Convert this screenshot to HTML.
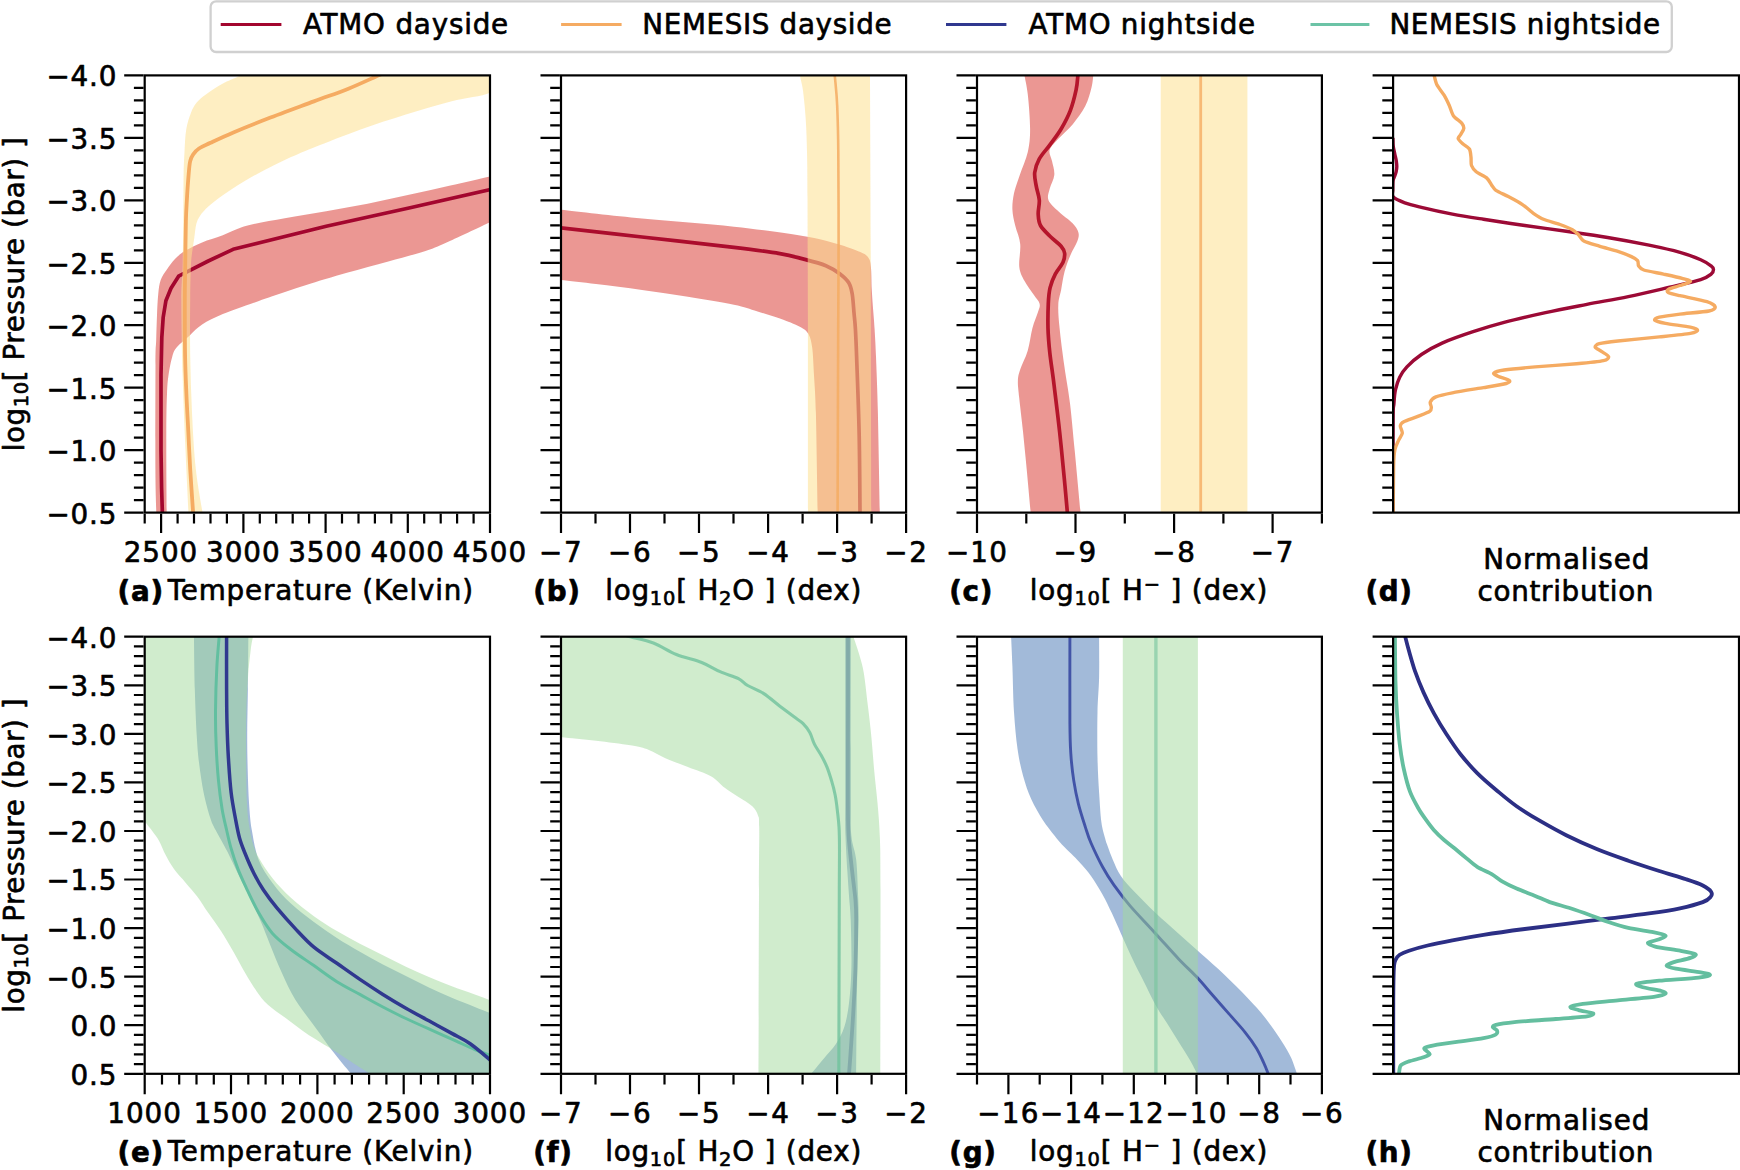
<!DOCTYPE html>
<html lang="en"><head><meta charset="utf-8"><title>Retrieved atmospheric profiles: ATMO vs NEMESIS</title>
<style>
html,body{margin:0;padding:0;background:#fff;}
body{width:1740px;height:1170px;overflow:hidden;}
svg{display:block;}
text{font-family:"DejaVu Sans", "Liberation Sans", sans-serif;font-size:27.78px;fill:#000;stroke:#000;stroke-width:0.65px;stroke-linejoin:round;}
.b{font-weight:bold;}
.sub{font-size:19.45px;}
.ax{stroke:#000;stroke-width:2.2;fill:none;stroke-linecap:square;}
.tk{stroke:#000;stroke-width:2.2;fill:none;}
.ln{fill:none;stroke-linejoin:round;stroke-linecap:butt;}
</style></head><body>
<svg width="1740" height="1170" viewBox="0 0 1740 1170">
<rect width="1740" height="1170" fill="#fff"/>
<defs>
<clipPath id="cp00"><rect x="144.7" y="75.4" width="345.3" height="437.2"/></clipPath>
<clipPath id="cp01"><rect x="561" y="75.4" width="345.1" height="437.2"/></clipPath>
<clipPath id="cp02"><rect x="977" y="75.4" width="344.9" height="437.2"/></clipPath>
<clipPath id="cp03"><rect x="1393.1" y="75.4" width="345.9" height="437.2"/></clipPath>
<clipPath id="cp10"><rect x="144.7" y="636.7" width="345.3" height="437.1"/></clipPath>
<clipPath id="cp11"><rect x="561" y="636.7" width="345.1" height="437.1"/></clipPath>
<clipPath id="cp12"><rect x="977" y="636.7" width="344.9" height="437.1"/></clipPath>
<clipPath id="cp13"><rect x="1393.1" y="636.7" width="345.9" height="437.1"/></clipPath>
</defs>
<g id="panel-a">
<g clip-path="url(#cp00)">
<path d="M492 176.1C485.1 177.7 464.2 182.5 450.4 185.6C436.6 188.7 422.8 191.8 409 194.8C395.2 197.8 381.4 201.1 367.6 203.8C353.8 206.5 340 208.8 326.2 211.2C312.4 213.6 297.9 215.8 284.8 218.2C271.7 220.6 257.9 222.8 247.6 225.6C237.3 228.4 230.4 232.4 222.8 235.2C215.2 238 208.3 239.8 202.1 242.4C195.9 245 190 247.9 185.5 250.6C181 253.3 178.3 255.7 175.2 258.8C172.1 261.9 169.3 265.9 166.9 269.4C164.5 272.9 162.1 275.8 160.7 280C159.2 284.2 158.8 288.6 158.2 294.5C157.6 300.4 157.3 307.6 157 315.2C156.7 322.8 156.4 331.7 156.2 340C155.9 348.3 155.6 343.5 155.5 365C155.4 386.5 155.3 444.2 155.4 469C155.5 493.8 156.2 506.5 156.3 514L166.7 514C166.6 500.3 166.2 451.6 166.3 431.6C166.4 411.6 166.6 403.4 167 394C167.4 384.6 167.6 381.5 168.5 375.2C169.4 368.9 170.9 361.1 172.3 356.4C173.7 351.7 174.1 350.5 177 347C179.9 343.5 185.5 339.1 189.7 335.4C193.9 331.6 196.6 328.1 202.1 324.5C207.6 320.9 214.2 317.7 222.8 314.1C231.4 310.5 245.2 305.9 253.8 302.8C262.4 299.7 265.9 298.4 274.5 295.5C283.1 292.6 293.4 289 305.5 285.2C317.6 281.4 333.1 276.8 346.9 272.8C360.7 268.8 375.2 265 388.3 261.4C401.4 257.8 415.1 254.4 425.5 251C435.9 247.6 439.3 245.7 450.4 240.7C461.5 235.7 485.1 224.4 492 221.2Z" fill="#d73027" fill-opacity="0.5"/>
<path class="ln" d="M492 189.1L409 208L326.2 226.2L233.1 249.3L208.3 261L178.6 276.2L171 288.3L165.9 300.7L163.2 317.2L161.8 337.6L161 375.2L161 450.4L161.6 488L162.4 514" stroke="#a3062e" stroke-width="3.7" stroke-opacity="1"/>
<path d="M243 73C242.6 73.4 243.8 73.8 240.3 75.6C236.8 77.4 227.7 80.9 222 84.1C216.3 87.2 210.1 91.4 205.9 94.5C201.7 97.6 199.2 99.4 196.7 102.5C194.2 105.6 192.6 108.5 190.9 112.9C189.2 117.3 187.4 122.5 186.3 129C185.2 135.5 184.9 144.3 184.5 152C184.1 159.7 183.8 163.5 183.6 175C183.4 186.5 183.5 205.7 183.3 221C183.1 236.3 182.9 253.8 182.6 267C182.3 280.2 181.3 282 181.3 300C181.3 318 181.9 350 182.6 375C183.3 400 184.5 426.8 185.5 450C186.5 473.2 188 503.3 188.5 514L202.8 514C201.6 506.5 197.6 485.9 195.8 469C194 452.1 192.9 431.6 192 412.8C191.1 394 190.5 374.8 190.2 356C189.9 337.2 190.1 314.8 190.2 300C190.3 285.2 190.6 275 190.9 267C191.2 259 191.6 256.7 192.2 252C192.8 247.3 193.5 243.2 194.2 238.6C194.9 233.9 195.3 227.9 196.3 224.1C197.3 220.3 198 218.8 200 215.9C202 213 204.5 210.1 208.3 206.6C212.1 203.1 216.9 199.3 222.8 195.2C228.7 191 236.6 185.8 243.5 181.7C250.4 177.5 257.2 173.9 264.1 170.3C271 166.7 276.5 163.8 284.8 160C293.1 156.2 301.4 152.6 313.9 147.6C326.4 142.6 344.6 135.3 359.9 129.8C375.2 124.3 390.6 119.4 405.9 114.6C421.2 109.8 437.4 105 451.8 101.2C466.2 97.4 485.3 96.3 492 91.6C498.7 86.9 492 76.1 492 73Z" fill="#fee090" fill-opacity="0.55"/>
<path class="ln" d="M385 73C384.1 73.3 385.5 72.4 379.4 75C373.3 77.6 359.3 84.3 348.4 88.7C337.5 93.1 327.3 96.4 313.9 101.4C300.5 106.4 281.3 113.4 267.9 118.6C254.5 123.8 243 128.4 233.4 132.4C223.8 136.4 216.2 140.1 210.5 142.8C204.8 145.5 201.9 146.6 199 148.5C196.1 150.4 194.7 152.2 193.2 154.3C191.7 156.4 191 157.7 190.2 161.1C189.4 164.5 189.1 168.8 188.6 174.9C188.1 181 187.4 190.2 187 197.9C186.6 205.6 186.2 209.4 185.9 220.9C185.6 232.4 185.4 253.7 185.2 266.9C185 280.1 184.8 285.1 184.8 300C184.8 314.9 184.8 340.7 185.1 356.4C185.4 372.1 185.9 381.5 186.4 394C186.9 406.5 187.7 419.1 188.3 431.6C188.9 444.1 189.4 455.5 190.2 469.2C191 482.9 192.7 506.5 193.2 514" stroke="#f5ab62" stroke-width="3.8" stroke-opacity="1"/>
</g>
<rect class="ax" x="144.7" y="75.4" width="345.3" height="437.2"/>
<path class="tk" d="M143.6 75.4h-19.4M143.6 87.9h-9.7M143.6 100.4h-9.7M143.6 112.9h-9.7M143.6 125.4h-9.7M143.6 137.9h-19.4M143.6 150.3h-9.7M143.6 162.8h-9.7M143.6 175.3h-9.7M143.6 187.8h-9.7M143.6 200.3h-19.4M143.6 212.8h-9.7M143.6 225.3h-9.7M143.6 237.8h-9.7M143.6 250.3h-9.7M143.6 262.8h-19.4M143.6 275.3h-9.7M143.6 287.8h-9.7M143.6 300.2h-9.7M143.6 312.7h-9.7M143.6 325.2h-19.4M143.6 337.7h-9.7M143.6 350.2h-9.7M143.6 362.7h-9.7M143.6 375.2h-9.7M143.6 387.7h-19.4M143.6 400.2h-9.7M143.6 412.7h-9.7M143.6 425.2h-9.7M143.6 437.7h-9.7M143.6 450.1h-19.4M143.6 462.6h-9.7M143.6 475.1h-9.7M143.6 487.6h-9.7M143.6 500.1h-9.7M143.6 512.6h-19.4"/>
<text x="116.3" y="86.3" text-anchor="end" textLength="69.8">−4.0</text>
<text x="116.3" y="148.8" text-anchor="end" textLength="69.8">−3.5</text>
<text x="116.3" y="211.2" text-anchor="end" textLength="69.8">−3.0</text>
<text x="116.3" y="273.7" text-anchor="end" textLength="69.8">−2.5</text>
<text x="116.3" y="336.1" text-anchor="end" textLength="69.8">−2.0</text>
<text x="116.3" y="398.6" text-anchor="end" textLength="69.8">−1.5</text>
<text x="116.3" y="461" text-anchor="end" textLength="69.8">−1.0</text>
<text x="116.3" y="523.5" text-anchor="end" textLength="69.8">−0.5</text>
<text x="160.5" y="561.9" text-anchor="middle" textLength="73.5">2500</text>
<text x="242.8" y="561.9" text-anchor="middle" textLength="73.5">3000</text>
<text x="325" y="561.9" text-anchor="middle" textLength="73.5">3500</text>
<text x="407.2" y="561.9" text-anchor="middle" textLength="73.5">4000</text>
<text x="489.4" y="561.9" text-anchor="middle" textLength="73.5">4500</text>
<path class="tk" d="M144.7 513.7v9.7M161.1 513.7v19.4M177.6 513.7v9.7M194 513.7v9.7M210.5 513.7v9.7M226.9 513.7v9.7M243.4 513.7v19.4M259.8 513.7v9.7M276.2 513.7v9.7M292.7 513.7v9.7M309.1 513.7v9.7M325.6 513.7v19.4M342 513.7v9.7M358.5 513.7v9.7M374.9 513.7v9.7M391.3 513.7v9.7M407.8 513.7v19.4M424.2 513.7v9.7M440.7 513.7v9.7M457.1 513.7v9.7M473.6 513.7v9.7M490 513.7v19.4"/>
<text class="b" x="117.6" y="600.6" textLength="45.5">(a)</text>
<text x="320.4" y="600.2" text-anchor="middle" textLength="305.3">Temperature (Kelvin)</text>
</g>
<g id="panel-b">
<g clip-path="url(#cp01)">
<path d="M559 209.6C572.8 211.1 612.9 215.8 642 218.6C671.1 221.4 707.1 223.8 733.9 226.7C760.7 229.6 785.6 233 802.9 235.9C820.1 238.8 827.8 241.2 837.4 243.9C847 246.6 855.1 249.7 860.3 252C865.5 254.3 866.6 255.2 868.4 257.7C870.2 260.2 870.3 261.5 870.9 266.9C871.5 272.3 871.4 282.2 871.8 289.9C872.2 297.6 872.9 306.4 873.4 312.9C873.9 319.4 874.2 321.8 874.6 329C875 336.2 875.5 342.4 876 356.4C876.5 370.4 877.3 386.5 877.9 412.8C878.5 439.1 879.5 497.1 879.8 514L817.7 514C817.4 497.1 816.5 435.9 815.9 412.8C815.3 389.7 814.6 386.2 814 375.2C813.4 364.2 813.1 353.9 812.1 347C811.1 340.1 810.2 337.1 808.3 333.8C806.4 330.5 804.5 329.5 800.8 327.3C797 325.1 793 323.3 785.8 320.7C778.6 318.1 766.2 314.1 757.6 311.5C749 308.9 745.5 307.2 733.9 304.8C722.3 302.4 703.2 299.3 687.9 296.8C672.6 294.3 657.3 292 642 289.9C626.7 287.8 609.8 285.8 596 284.1C582.2 282.4 565.2 280.6 559 279.9Z" fill="#d73027" fill-opacity="0.5"/>
<path class="ln" d="M559 227.6C572.8 229.2 612.9 233.7 642 237C671.1 240.3 710.9 244.6 733.9 247.4C756.9 250.2 768.4 251.7 779.9 253.6C791.4 255.5 795.2 256.9 802.9 258.9C810.6 260.9 819.8 263.2 825.9 265.7C832 268.2 835.9 270.9 839.7 273.8C843.5 276.7 846.8 279.6 848.9 283C851 286.4 851.4 289.5 852.3 294.5C853.1 299.5 853.5 307.1 854 312.9C854.5 318.6 855 321.8 855.4 329C855.8 336.2 856 339.3 856.6 356.4C857.2 373.5 858.5 405.3 859.1 431.6C859.7 457.9 859.9 500.3 860 514" stroke="#ab0c2d" stroke-width="3.7" stroke-opacity="1"/>
<path d="M800.1 73C800.1 73.8 799.9 75.2 800.4 78C800.9 80.8 802 83.3 802.9 89.9C803.8 96.5 804.9 107.2 805.6 117.5C806.3 127.8 806.7 138.6 807 152C807.3 165.4 807.4 168.5 807.5 198C807.6 227.5 807.8 276.3 807.9 329C808 381.7 808 483.2 808 514L871.3 514C871.2 469 870.9 317.4 870.7 243.9C870.5 170.4 870.1 101.5 870 73Z" fill="#fee090" fill-opacity="0.55"/>
<path class="ln" d="M834.4 73C834.5 74.2 834.7 74.5 835.2 80C835.7 85.5 836.7 94 837.2 106C837.7 118 838.1 129.7 838.3 152C838.5 174.3 838.6 210.5 838.6 240C838.6 269.5 838.4 283.3 838.2 329C838 374.7 837.7 483.2 837.6 514" stroke="#f5ab62" stroke-width="2.6" stroke-opacity="0.85"/>
</g>
<rect class="ax" x="561" y="75.4" width="345.1" height="437.2"/>
<path class="tk" d="M559.9 75.4h-19.4M559.9 87.9h-9.7M559.9 100.4h-9.7M559.9 112.9h-9.7M559.9 125.4h-9.7M559.9 137.9h-19.4M559.9 150.3h-9.7M559.9 162.8h-9.7M559.9 175.3h-9.7M559.9 187.8h-9.7M559.9 200.3h-19.4M559.9 212.8h-9.7M559.9 225.3h-9.7M559.9 237.8h-9.7M559.9 250.3h-9.7M559.9 262.8h-19.4M559.9 275.3h-9.7M559.9 287.8h-9.7M559.9 300.2h-9.7M559.9 312.7h-9.7M559.9 325.2h-19.4M559.9 337.7h-9.7M559.9 350.2h-9.7M559.9 362.7h-9.7M559.9 375.2h-9.7M559.9 387.7h-19.4M559.9 400.2h-9.7M559.9 412.7h-9.7M559.9 425.2h-9.7M559.9 437.7h-9.7M559.9 450.1h-19.4M559.9 462.6h-9.7M559.9 475.1h-9.7M559.9 487.6h-9.7M559.9 500.1h-9.7M559.9 512.6h-19.4"/>
<text x="560.4" y="561.9" text-anchor="middle" textLength="42.6">−7</text>
<text x="629.4" y="561.9" text-anchor="middle" textLength="42.6">−6</text>
<text x="698.4" y="561.9" text-anchor="middle" textLength="42.6">−5</text>
<text x="767.5" y="561.9" text-anchor="middle" textLength="42.6">−4</text>
<text x="836.5" y="561.9" text-anchor="middle" textLength="42.6">−3</text>
<text x="905.5" y="561.9" text-anchor="middle" textLength="42.6">−2</text>
<path class="tk" d="M561 513.7v19.4M595.5 513.7v9.7M630 513.7v19.4M664.5 513.7v9.7M699 513.7v19.4M733.5 513.7v9.7M768.1 513.7v19.4M802.6 513.7v9.7M837.1 513.7v19.4M871.6 513.7v9.7M906.1 513.7v19.4"/>
<text class="b" x="533.3" y="600.6" textLength="46.6">(b)</text>
<text x="733.2" y="600.2" text-anchor="middle" textLength="256.1">log<tspan class="sub" dy="4.6">10</tspan><tspan dy="-4.6">[ H</tspan><tspan class="sub" dy="4.6">2</tspan><tspan dy="-4.6">O ] (dex)</tspan></text>
</g>
<g id="panel-c">
<g clip-path="url(#cp02)">
<path d="M1024 73C1024.1 73.3 1023.8 71.4 1024.4 75C1025 78.6 1026.8 85.5 1027.8 94.5C1028.8 103.5 1030.1 119.4 1030.1 129C1030.1 138.6 1029.5 144.3 1027.8 152C1026.1 159.7 1022.1 168 1019.8 174.9C1017.5 181.8 1015.2 187.6 1014 193.3C1012.8 199.1 1012.2 204 1012.4 209.4C1012.6 214.8 1013.9 219.8 1015.2 225.5C1016.5 231.2 1019.5 237 1020.2 243.9C1020.9 250.8 1018.6 260.8 1019.3 266.9C1020 273 1022 276.1 1024.4 280.7C1026.8 285.3 1031.1 290.7 1033.6 294.5C1036.1 298.3 1038.9 300.8 1039.6 303.7C1040.3 306.6 1039.2 307.9 1038 312C1036.8 316.1 1034.1 321.7 1032.4 328.2C1030.7 334.7 1029.7 343.9 1027.7 350.8C1025.7 357.7 1021.8 364.5 1020.2 369.5C1018.6 374.5 1018.1 376.1 1017.9 380.8C1017.7 385.5 1018.4 389.2 1019.2 397.7C1020.1 406.2 1021.8 419.7 1023 431.6C1024.2 443.5 1025.4 455.5 1026.7 469.2C1028 482.9 1030.1 506.5 1030.8 514L1080.7 514C1079.7 503.4 1076.5 468.8 1074.7 450.4C1072.9 432 1071.7 417.5 1070 403.4C1068.3 389.3 1066 378.3 1064.3 365.8C1062.6 353.3 1060.6 338.3 1059.6 328.2C1058.6 318.1 1058 311.4 1058.3 305C1058.5 298.6 1060 295.5 1061.1 289.9C1062.1 284.3 1063.1 277.2 1064.6 271.5C1066.1 265.8 1068.2 260.4 1070.3 255.4C1072.4 250.4 1075.8 245.4 1077.2 241.6C1078.6 237.8 1079.2 235.5 1078.4 232.4C1077.6 229.3 1075.8 226.6 1072.6 223.2C1069.3 219.8 1062.9 215.5 1058.9 211.7C1054.9 207.9 1050 204 1048.5 200.2C1047 196.4 1048.7 192.9 1049.7 188.7C1050.7 184.5 1053.9 179.5 1054.3 174.9C1054.7 170.3 1052.8 165.3 1052 161.1C1051.2 156.9 1048.5 153.5 1049.7 149.7C1050.9 145.9 1055.1 142.4 1058.9 138.2C1062.7 134 1068.2 129.8 1072.6 124.4C1077 119 1082.1 112.1 1085.3 106C1088.5 99.9 1090.2 92.8 1091.5 87.6C1092.8 82.4 1093 77.4 1093.3 75C1093.6 72.6 1093.4 73.3 1093.4 73Z" fill="#d73027" fill-opacity="0.5"/>
<path class="ln" d="M1078 73C1078 73.3 1078.2 72.2 1077.9 75C1077.6 77.8 1077.4 84 1076.1 89.9C1074.8 95.8 1072.8 104.1 1070.3 110.6C1067.8 117.1 1064.5 123.2 1061.1 129C1057.7 134.8 1053.3 140.1 1049.7 145.1C1046.1 150.1 1041.8 154.3 1039.3 158.9C1036.8 163.5 1035.2 168 1034.7 172.6C1034.2 177.2 1035.5 181.8 1036.3 186.4C1037.1 191 1039 195.6 1039.3 200.2C1039.6 204.8 1038 209.8 1038.2 214C1038.4 218.2 1038.4 221.7 1040.5 225.5C1042.6 229.3 1047.4 233.6 1050.8 237C1054.2 240.4 1058.8 243.5 1061.1 246.2C1063.4 248.9 1064.3 250.4 1064.6 253.1C1064.9 255.8 1064.5 258.9 1063 262.3C1061.5 265.8 1057.6 269.6 1055.4 273.8C1053.2 278 1051.3 282.6 1050.1 287.6C1048.9 292.6 1048.6 296.9 1048.3 303.7C1048 310.5 1047.8 320 1048 328.2C1048.2 336.4 1048.8 343.2 1049.8 352.6C1050.8 362 1052.4 371.4 1054 384.6C1055.6 397.8 1057.9 415.9 1059.6 431.6C1061.3 447.3 1063 464.9 1064.3 478.6C1065.6 492.3 1067 508.1 1067.5 514" stroke="#b5152b" stroke-width="3.7" stroke-opacity="1"/>
<rect x="1160.7" y="75.4" width="86.7" height="437.2" fill="#fee090" fill-opacity="0.55"/>
<path class="ln" d="M1200.7 70L1200.7 516" stroke="#f5ab62" stroke-width="2.8" stroke-opacity="0.8"/>
</g>
<rect class="ax" x="977" y="75.4" width="344.9" height="437.2"/>
<path class="tk" d="M975.9 75.4h-19.4M975.9 87.9h-9.7M975.9 100.4h-9.7M975.9 112.9h-9.7M975.9 125.4h-9.7M975.9 137.9h-19.4M975.9 150.3h-9.7M975.9 162.8h-9.7M975.9 175.3h-9.7M975.9 187.8h-9.7M975.9 200.3h-19.4M975.9 212.8h-9.7M975.9 225.3h-9.7M975.9 237.8h-9.7M975.9 250.3h-9.7M975.9 262.8h-19.4M975.9 275.3h-9.7M975.9 287.8h-9.7M975.9 300.2h-9.7M975.9 312.7h-9.7M975.9 325.2h-19.4M975.9 337.7h-9.7M975.9 350.2h-9.7M975.9 362.7h-9.7M975.9 375.2h-9.7M975.9 387.7h-19.4M975.9 400.2h-9.7M975.9 412.7h-9.7M975.9 425.2h-9.7M975.9 437.7h-9.7M975.9 450.1h-19.4M975.9 462.6h-9.7M975.9 475.1h-9.7M975.9 487.6h-9.7M975.9 500.1h-9.7M975.9 512.6h-19.4"/>
<text x="976.4" y="561.9" text-anchor="middle" textLength="61">−10</text>
<text x="1074.9" y="561.9" text-anchor="middle" textLength="42.6">−9</text>
<text x="1173.5" y="561.9" text-anchor="middle" textLength="42.6">−8</text>
<text x="1272" y="561.9" text-anchor="middle" textLength="42.6">−7</text>
<path class="tk" d="M977 513.7v19.4M1026.3 513.7v9.7M1075.5 513.7v19.4M1124.8 513.7v9.7M1174.1 513.7v19.4M1223.4 513.7v9.7M1272.6 513.7v19.4M1321.9 513.7v9.7"/>
<text class="b" x="949.3" y="600.6" textLength="43.1">(c)</text>
<text x="1148.5" y="600.2" text-anchor="middle" textLength="237.6">log<tspan class="sub" dy="4.6">10</tspan><tspan dy="-4.6">[ H</tspan><tspan class="sub" dy="-9.3">−</tspan><tspan dy="9.3"> ] (dex)</tspan></text>
</g>
<g id="panel-d">
<g clip-path="url(#cp03)">
<path class="ln" d="M1392.9 138C1393 139.3 1392.9 143.3 1393.2 146C1393.5 148.7 1394.3 151.5 1394.8 154C1395.3 156.5 1396 158.9 1396.3 161C1396.6 163.1 1396.8 164.7 1396.8 166.5C1396.8 168.3 1396.5 170.2 1396.1 172C1395.7 173.8 1394.8 175.5 1394.3 177C1393.8 178.5 1393.2 178.8 1393 181C1392.8 183.2 1392.8 187.3 1392.8 190C1392.8 192.7 1391.3 194.9 1393.3 197C1395.3 199.1 1400.1 201.1 1404.8 202.8C1409.5 204.5 1413.5 205.4 1421.4 207.3C1429.3 209.2 1442.1 212.1 1452.4 214.1C1462.8 216.1 1471.4 217.4 1483.5 219.3C1495.6 221.2 1511 223.5 1524.8 225.5C1538.6 227.5 1552.4 229.3 1566.2 231.3C1580 233.3 1593.8 235.2 1607.6 237.5C1621.4 239.8 1636.9 242.7 1649 245.2C1661.1 247.7 1671.4 250 1680 252.4C1688.6 254.8 1695.5 257.4 1700.7 259.7C1705.9 261.9 1709 264.3 1711.1 265.9C1713.2 267.5 1713.5 268 1713.5 269.4C1713.5 270.8 1713.2 272.4 1711.1 274.1C1709 275.8 1707.6 277.4 1700.7 279.6C1693.8 281.8 1681.8 284.4 1669.7 287.2C1657.6 290 1642.1 293.7 1628.3 296.6C1614.5 299.5 1600.7 301.7 1586.9 304.4C1573.1 307.1 1559.3 309.7 1545.5 312.7C1531.7 315.7 1516.2 319.2 1504.1 322.4C1492 325.6 1483.4 328.2 1473.1 331.7C1462.8 335.1 1450.7 339.3 1442.1 343.1C1433.5 346.9 1427.3 350.5 1421.4 354.5C1415.5 358.5 1410.5 363.1 1406.9 366.9C1403.3 370.7 1401.6 373.4 1399.7 377.2C1397.8 381 1396.5 385.2 1395.5 389.7C1394.5 394.2 1394.3 399.1 1393.9 404.1C1393.5 409.2 1393.2 401.7 1393.1 420C1392.9 438.3 1393 498.3 1393 514" stroke="#9c0a36" stroke-width="3.4" stroke-opacity="1"/>
<path class="ln" d="M1433.8 72C1433.9 72.5 1433.8 73.8 1434.2 75.5C1434.6 77.2 1435.6 82.2 1436.9 84.8C1438.2 87.4 1442.4 92.4 1444.1 95.2C1445.8 98 1448 102.7 1449.3 105.5C1450.6 108.3 1451.8 113.6 1453.5 115.9C1455.2 118.2 1460.3 121.4 1461.7 123.1C1463.1 124.8 1463.9 126.8 1463.8 128.3C1463.7 129.8 1461.4 133.1 1460.7 134.5C1460 135.9 1457.9 137.4 1458.2 138.6C1458.5 139.8 1461.3 142.4 1462.8 143.8C1464.3 145.2 1468.3 147.2 1469.4 149C1470.5 150.8 1470.7 155 1471 157.2C1471.3 159.4 1470.8 163.6 1471.5 165.5C1472.2 167.4 1474.2 170 1476.2 171.7C1478.2 173.4 1484.5 176.1 1486.6 177.9C1488.7 179.7 1490.5 183.5 1491.7 185.2C1492.9 186.9 1493.7 188.8 1495.9 190.3C1498.1 191.8 1504.7 194.7 1508.3 196.6C1511.9 198.5 1519.5 202.6 1522.8 204.8C1526.1 207 1530.3 211.2 1533.1 213.1C1535.9 215 1539.9 217.8 1543.5 219.3C1547.1 220.8 1556.1 223.1 1560 224.5C1563.9 225.9 1569.9 228.3 1572.4 229.7C1574.9 231.1 1577.1 233.3 1578.6 234.8C1580.1 236.3 1581 239.5 1583.8 241C1586.6 242.5 1594.8 244.8 1599.3 246.2C1603.8 247.6 1613.6 250 1617.9 251.4C1622.2 252.8 1628.8 255.4 1631.4 256.6C1634 257.8 1636.6 259.5 1637.6 260.7C1638.6 261.9 1637.8 264.7 1638.6 265.9C1639.4 267.1 1640.5 268.9 1643.8 270C1647.1 271.1 1658.4 273 1663.5 274.1C1668.6 275.2 1678.5 277.3 1682.1 278.3C1685.7 279.3 1690.7 280.4 1690.4 281.4C1690.1 282.4 1682.9 284.5 1680 285.5C1677.1 286.5 1670.2 288.3 1668.6 289.2C1667 290.1 1666.7 291.6 1668.2 292.5C1669.7 293.4 1674.8 294.5 1680 295.7C1685.2 296.9 1702.2 300.2 1706.9 301.7C1711.6 303.2 1714.9 305.7 1715.2 306.9C1715.5 308.1 1713.7 310 1709 311C1704.3 312 1686.6 313.3 1680 314.1C1673.4 314.9 1662.7 316.4 1659.3 317.2C1655.9 318 1654 319.5 1654.8 320.3C1655.6 321.1 1660.8 322.5 1665.5 323.4C1670.2 324.3 1686.1 326.3 1690.4 327.2C1694.7 328.1 1697.6 329.5 1697.6 330.3C1697.6 331.1 1695.5 332.5 1690.4 333.4C1685.3 334.3 1669 335.9 1659.3 336.9C1649.6 337.9 1625.9 340.1 1617.9 341C1609.9 341.9 1602.3 342.9 1599.3 343.7C1596.3 344.5 1594.9 346.2 1595.2 347.2C1595.5 348.2 1599.6 350.1 1601.4 351.4C1603.2 352.7 1608.3 355.4 1608.6 356.6C1608.9 357.8 1607.7 359.7 1603.4 360.7C1599.1 361.7 1585.7 363 1576.6 363.8C1567.5 364.6 1544.9 366.1 1535.2 366.9C1525.5 367.7 1509.6 369.2 1504.1 370C1498.6 370.8 1494.6 372.3 1493.8 373.1C1493 373.9 1495.8 375.2 1497.9 376.2C1500 377.2 1508.2 379.4 1509.3 380.4C1510.4 381.4 1509.6 382.5 1506.2 383.5C1502.8 384.5 1490.7 386.4 1483.5 387.6C1476.3 388.8 1458.7 391.6 1452.4 392.8C1446.1 394 1438.8 395.7 1435.9 396.9C1433 398.1 1430.9 400.7 1430.3 402.1C1429.7 403.5 1431.4 406 1431.3 407.2C1431.2 408.4 1431.6 410.1 1429.7 411.4C1427.8 412.7 1420.7 415.2 1417.2 416.6C1413.7 418 1406.1 420.5 1403.8 421.7C1401.5 422.9 1400.5 424.4 1400.3 425.9C1400.1 427.4 1402.5 431.2 1402.3 433.1C1402.1 435 1399.6 438.2 1398.6 440.4C1397.6 442.6 1395.6 446.3 1394.9 449.7C1394.2 453.1 1393.8 457.6 1393.6 466.2C1393.4 474.8 1393.3 507.6 1393.2 514" stroke="#f5ab62" stroke-width="3.4" stroke-opacity="1"/>
</g>
<rect class="ax" x="1393.1" y="75.4" width="345.9" height="437.2"/>
<path class="tk" d="M1392 75.4h-19.4M1392 87.9h-9.7M1392 100.4h-9.7M1392 112.9h-9.7M1392 125.4h-9.7M1392 137.9h-19.4M1392 150.3h-9.7M1392 162.8h-9.7M1392 175.3h-9.7M1392 187.8h-9.7M1392 200.3h-19.4M1392 212.8h-9.7M1392 225.3h-9.7M1392 237.8h-9.7M1392 250.3h-9.7M1392 262.8h-19.4M1392 275.3h-9.7M1392 287.8h-9.7M1392 300.2h-9.7M1392 312.7h-9.7M1392 325.2h-19.4M1392 337.7h-9.7M1392 350.2h-9.7M1392 362.7h-9.7M1392 375.2h-9.7M1392 387.7h-19.4M1392 400.2h-9.7M1392 412.7h-9.7M1392 425.2h-9.7M1392 437.7h-9.7M1392 450.1h-19.4M1392 462.6h-9.7M1392 475.1h-9.7M1392 487.6h-9.7M1392 500.1h-9.7M1392 512.6h-19.4"/>
<text class="b" x="1365.4" y="600.6" textLength="46.6">(d)</text>
<text x="1566.3" y="568.6" text-anchor="middle" textLength="166.1">Normalised</text>
<text x="1565.5" y="600.8" text-anchor="middle" textLength="175.9">contribution</text>
</g>
<g id="panel-e">
<g clip-path="url(#cp10)">
<path d="M193.9 634C194.1 643.2 194.3 672.2 194.8 689C195.3 705.8 196 722.6 196.7 734.9C197.4 747.1 197.8 752.9 199 762.5C200.2 772.1 201.7 783.2 203.6 792.4C205.5 801.6 208.2 811.4 210.2 817.7C212.2 824 212.7 824.3 215.6 830C218.5 835.7 223.8 844.5 227.6 852C231.4 859.5 234.8 867.2 238.6 875C242.4 882.8 246.9 891.2 250.6 899C254.3 906.8 257.7 914.4 261 922C264.3 929.6 266.8 936.5 270.2 944.9C273.6 953.3 277.5 963.3 281.7 972.5C285.9 981.7 290.1 991.3 295.5 1000.1C300.9 1008.9 307.8 1017 313.9 1025.4C320 1033.8 326.2 1042.7 332.3 1050.7C338.4 1058.7 347.2 1069 350.7 1073.2C354.1 1077.4 329.4 1075.5 353 1076C376.6 1076.5 468.8 1076 492 1076L492 1013.7C489.1 1012.6 481.5 1009.6 474.8 1007C468.1 1004.4 459.5 1001 451.8 997.8C444.1 994.5 436.5 991.1 428.9 987.5C421.2 983.9 413.6 979.8 405.9 976C398.2 972.2 390.6 968.5 382.9 964.5C375.2 960.5 367.6 956.2 359.9 951.8C352.2 947.4 344.6 943 336.9 938C329.2 933 321.6 927.7 313.9 922C306.2 916.3 297.8 910.1 290.9 903.6C284 897.1 277.9 890.2 272.5 882.9C267.1 875.6 262.1 868.7 258.7 859.9C255.2 851.1 253.4 839.3 251.8 830C250.2 820.7 249.8 814 249.1 803.9C248.4 793.8 248 780.9 247.7 769.4C247.4 757.9 247.2 748.3 247.2 734.9C247.2 721.5 247.7 705.8 247.9 689C248.1 672.2 248.3 643.2 248.4 634Z" fill="#4575b4" fill-opacity="0.5"/>
<path d="M142 634C142 664.2 141.4 783.6 142 815C142.6 846.4 143.8 819.5 145.6 822.3C147.4 825 150.4 828.4 152.6 831.5C154.8 834.6 156.8 836.7 159 840.7C161.2 844.7 163.3 850.6 165.8 855.3C168.3 860 170.7 864.5 174 869.1C177.3 873.7 181.9 878.3 185.8 882.9C189.7 887.5 193.7 891.7 197.4 896.7C201.1 901.7 204.3 907.1 208.2 912.8C212.1 918.5 216.8 924.6 221 931.1C225.2 937.6 229.4 944.9 233.4 951.8C237.4 958.7 241.1 966 244.9 972.5C248.7 979 252.6 985.5 256.4 990.9C260.2 996.3 262.9 1000.1 267.9 1004.7C272.9 1009.3 280.2 1013.9 286.3 1018.5C292.4 1023.1 298.9 1028.3 304.7 1032.3C310.4 1036.3 316.2 1039.7 320.8 1042.6C325.4 1045.5 327.7 1046.6 332.3 1049.5C336.9 1052.4 342.3 1056 348.4 1059.9C354.5 1063.9 365.2 1070.5 369.1 1073.2C373 1075.9 351.5 1075.5 372 1076C392.5 1076.5 472 1076 492 1076L492 1000.9C489.1 999.8 481.5 996.8 474.8 994.4C468.1 992 459.5 989.2 451.8 986.3C444.1 983.4 436.5 980.4 428.9 977.1C421.2 973.9 413.6 970.4 405.9 966.8C398.2 963.2 390.6 959.1 382.9 955.3C375.2 951.5 367.6 947.8 359.9 943.8C352.2 939.8 344.6 935.7 336.9 931.1C329.2 926.5 321.6 921.8 313.9 916.2C306.2 910.7 297.8 904.1 290.9 897.8C284 891.5 277.7 884.8 272.5 878.3C267.3 871.8 262.7 864.5 259.5 859C256.3 853.5 255.1 850.6 253.4 845.3C251.7 839.9 250.5 833.8 249.4 826.9C248.3 820 247.6 815.4 247 803.9C246.4 792.4 246.2 773.2 246.1 757.9C246 742.6 246 725.4 246.3 712C246.6 698.6 247.3 687.9 248 677.5C248.7 667.1 249.9 656.7 250.7 649.9C251.5 643.1 252.6 639.2 253 636.6C253.4 634 253.2 634.4 253.2 634Z" fill="#a1d99b" fill-opacity="0.5"/>
<path class="ln" d="M219.4 634C219 639.3 217.6 653 216.9 666C216.2 679 215.6 698.6 215.5 712C215.4 725.4 215.7 734.9 216.2 746.4C216.7 757.9 217.5 770.5 218.5 780.9C219.5 791.2 220.7 800.3 222 808.5C223.3 816.7 225.1 823.4 226.6 830C228.1 836.6 229.2 841.9 231.1 848.4C233 854.9 235.3 862.2 238 869.1C240.7 876 243.8 882.5 247.2 889.8C250.6 897.1 254.5 905.5 258.7 912.8C262.9 920.1 267.1 927.3 272.5 933.4C277.9 939.5 284 944.1 290.9 949.5C297.8 954.9 306.2 960.2 313.9 965.6C321.6 971 329.2 976.9 336.9 981.7C344.6 986.5 352.2 990.2 359.9 994.4C367.6 998.6 375.2 1003 382.9 1007C390.6 1011 398.2 1014.9 405.9 1018.5C413.6 1022.1 421.2 1025.5 428.9 1028.9C436.5 1032.4 444.1 1035.8 451.8 1039.2C459.5 1042.6 468.1 1046.7 474.8 1049.5C481.5 1052.3 489.1 1055.1 492 1056.2" stroke="#62bfa0" stroke-width="3.0" stroke-opacity="1"/>
<path class="ln" d="M226.6 634C226.6 643.2 226.5 674.1 226.6 689C226.7 703.9 226.7 711.9 227 723.4C227.3 734.9 227.7 746.4 228.4 757.9C229.1 769.4 229.9 782 231.1 792.4C232.3 802.8 234.3 812.4 235.7 820C237.1 827.6 238 832.5 239.5 838C241 843.5 242.5 847 244.9 853C247.3 859 251 867.6 254.1 873.7C257.2 879.8 259.5 884 263.3 889.8C267.1 895.5 271.7 901.7 277.1 908.2C282.5 914.7 289.4 922.4 295.5 928.9C301.6 935.4 307 941.5 313.9 947.2C320.8 952.9 329.2 957.9 336.9 963.3C344.6 968.7 352.2 974.2 359.9 979.4C367.6 984.6 375.2 989.6 382.9 994.4C390.6 999.2 398.2 1003.8 405.9 1008.2C413.6 1012.6 421.2 1016.6 428.9 1020.8C436.5 1025 444.9 1029.6 451.8 1033.4C458.7 1037.2 463.5 1039.1 470.2 1043.8C476.9 1048.5 488.4 1058.5 492 1061.5" stroke="#30388f" stroke-width="3.5" stroke-opacity="1"/>
</g>
<rect class="ax" x="144.7" y="636.7" width="345.3" height="437.1"/>
<path class="tk" d="M143.6 636.7h-19.4M143.6 646.4h-9.7M143.6 656.1h-9.7M143.6 665.8h-9.7M143.6 675.6h-9.7M143.6 685.3h-19.4M143.6 695h-9.7M143.6 704.7h-9.7M143.6 714.4h-9.7M143.6 724.1h-9.7M143.6 733.8h-19.4M143.6 743.5h-9.7M143.6 753.3h-9.7M143.6 763h-9.7M143.6 772.7h-9.7M143.6 782.4h-19.4M143.6 792.1h-9.7M143.6 801.8h-9.7M143.6 811.5h-9.7M143.6 821.3h-9.7M143.6 831h-19.4M143.6 840.7h-9.7M143.6 850.4h-9.7M143.6 860.1h-9.7M143.6 869.8h-9.7M143.6 879.5h-19.4M143.6 889.2h-9.7M143.6 899h-9.7M143.6 908.7h-9.7M143.6 918.4h-9.7M143.6 928.1h-19.4M143.6 937.8h-9.7M143.6 947.5h-9.7M143.6 957.2h-9.7M143.6 967h-9.7M143.6 976.7h-19.4M143.6 986.4h-9.7M143.6 996.1h-9.7M143.6 1005.8h-9.7M143.6 1015.5h-9.7M143.6 1025.2h-19.4M143.6 1034.9h-9.7M143.6 1044.7h-9.7M143.6 1054.4h-9.7M143.6 1064.1h-9.7M143.6 1073.8h-19.4"/>
<text x="116.3" y="647.6" text-anchor="end" textLength="69.8">−4.0</text>
<text x="116.3" y="696.2" text-anchor="end" textLength="69.8">−3.5</text>
<text x="116.3" y="744.7" text-anchor="end" textLength="69.8">−3.0</text>
<text x="116.3" y="793.3" text-anchor="end" textLength="69.8">−2.5</text>
<text x="116.3" y="841.9" text-anchor="end" textLength="69.8">−2.0</text>
<text x="116.3" y="890.4" text-anchor="end" textLength="69.8">−1.5</text>
<text x="116.3" y="939" text-anchor="end" textLength="69.8">−1.0</text>
<text x="116.3" y="987.6" text-anchor="end" textLength="69.8">−0.5</text>
<text x="116.3" y="1036.1" text-anchor="end" textLength="45.7">0.0</text>
<text x="116.3" y="1084.7" text-anchor="end" textLength="45.7">0.5</text>
<text x="144.1" y="1123.1" text-anchor="middle" textLength="73.5">1000</text>
<text x="230.4" y="1123.1" text-anchor="middle" textLength="73.5">1500</text>
<text x="316.8" y="1123.1" text-anchor="middle" textLength="73.5">2000</text>
<text x="403.1" y="1123.1" text-anchor="middle" textLength="73.5">2500</text>
<text x="489.4" y="1123.1" text-anchor="middle" textLength="73.5">3000</text>
<path class="tk" d="M144.7 1074.9v19.4M162 1074.9v9.7M179.2 1074.9v9.7M196.5 1074.9v9.7M213.8 1074.9v9.7M231 1074.9v19.4M248.3 1074.9v9.7M265.6 1074.9v9.7M282.8 1074.9v9.7M300.1 1074.9v9.7M317.4 1074.9v19.4M334.6 1074.9v9.7M351.9 1074.9v9.7M369.1 1074.9v9.7M386.4 1074.9v9.7M403.7 1074.9v19.4M420.9 1074.9v9.7M438.2 1074.9v9.7M455.5 1074.9v9.7M472.7 1074.9v9.7M490 1074.9v19.4"/>
<text class="b" x="117.6" y="1161.8" textLength="45.6">(e)</text>
<text x="320.4" y="1161.4" text-anchor="middle" textLength="305.3">Temperature (Kelvin)</text>
</g>
<g id="panel-f">
<g clip-path="url(#cp11)">
<path d="M845.2 634C845.2 661.7 845.2 766.4 845.2 800C845.2 833.6 845.1 823.9 845.5 835.9C845.9 847.9 846.8 861.8 847.4 871.8C848 881.8 848.5 887.7 849 895.7C849.5 903.7 850.3 907.6 850.7 919.6C851.1 931.6 851.7 953.6 851.4 967.5C851.1 981.4 850.2 993.1 849 1003C847.8 1012.9 846.5 1020.2 844.3 1027C842.1 1033.8 839.3 1038.8 835.9 1044C832.5 1049.2 827.9 1053.6 823.9 1058.4C819.9 1063.2 814.6 1069.6 812 1072.7C809.4 1075.8 808.7 1076.3 808 1077L856.2 1077C856.3 1066.7 856.5 1033.2 856.7 1015C856.9 996.8 857.1 983.4 857.4 967.5C857.7 951.6 858.5 931.6 858.6 919.6C858.7 907.6 858.5 905.7 858.1 895.7C857.7 885.7 857.3 869.8 856.2 859.8C855.1 849.8 852.3 845.9 851.4 835.9C850.5 825.9 851 833.6 850.9 800C850.8 766.4 850.9 661.7 850.9 634Z" fill="#4575b4" fill-opacity="0.5"/>
<path class="ln" d="M848 634C848 645 848 672.3 848 700C848 727.7 847.8 777.4 847.9 800C848 822.6 847.9 823.9 848.6 835.9C849.3 847.9 851.1 861 852.2 871.8C853.4 882.6 854.8 892.5 855.5 900.5C856.2 908.5 856.2 908.4 856.2 919.6C856.2 930.8 856 951.5 855.5 967.5C855 983.5 853.9 1001.3 853.1 1015.3C852.3 1029.2 851.4 1040.9 850.7 1051.2C850 1061.5 849.1 1072.7 848.8 1077" stroke="#3f55a0" stroke-width="3.8" stroke-opacity="0.62"/>
<path d="M558 634C558 651.1 557.3 719.6 558 736.8C558.7 754 555.7 736.6 562 737.2C568.3 737.9 584.6 739.4 596 740.7C607.4 742.1 621.7 743.8 630.5 745.3C639.3 746.8 643.2 747.8 648.9 749.9C654.6 752 658.4 755 664.9 757.9C671.4 760.8 680.2 764 687.9 767.1C695.6 770.2 704.8 772.8 710.9 776.3C717 779.8 720.1 784.3 724.7 787.8C729.3 791.2 733.9 793.9 738.5 797C743.1 800.1 749 803.1 752.3 806.2C755.5 809.3 756.9 812 758 815.4C759.1 818.8 759 814.6 759.2 826.9C759.4 839.2 759.1 847.5 759 889C758.9 930.5 758.6 1044.8 758.5 1076L880.3 1076C880.3 1044.8 880.6 928.6 880.5 889C880.4 849.4 880.4 852.6 879.9 838.4C879.4 824.2 878.6 815.4 877.6 803.9C876.6 792.4 875.2 781.7 874.1 769.4C873 757.1 871.9 741.8 870.7 730.3C869.6 718.8 868.4 710.1 867.2 700.5C866.1 690.9 865.1 680.6 863.8 672.9C862.5 665.2 860.9 660.5 859.2 654.5C857.5 648.5 854.4 640 853.4 636.6C852.4 633.2 853.2 634.4 853.2 634Z" fill="#a1d99b" fill-opacity="0.5"/>
<path class="ln" d="M622 634C623.2 634.4 624.1 635.1 629.3 636.6C634.5 638.1 645.5 640 653.4 643C661.2 646 668.3 651.2 676.4 654.5C684.5 657.8 694.4 659.6 701.7 662.5C709 665.4 714 669 720.1 671.7C726.2 674.4 733.9 676.3 738.5 678.6C743.1 680.9 743.5 683 747.7 685.5C751.9 688 758.4 690.1 763.8 693.6C769.2 697.1 774.9 702.4 779.9 706.2C784.9 710 789.9 713.7 793.7 716.6C797.5 719.5 800.2 720.7 802.9 723.4C805.6 726.1 807.9 729.1 809.8 732.6C811.7 736.1 812.5 740.3 814.4 744.1C816.3 747.9 819.2 751.8 821.3 755.6C823.4 759.4 825.3 762.9 827 767.1C828.7 771.3 830.2 776.3 831.6 780.9C833 785.5 834.1 789.7 835.1 794.7C836.1 799.7 836.8 805.4 837.4 810.8C838 816.2 838.6 820.4 839 826.9C839.4 833.4 839.5 839.5 839.5 849.9C839.5 860.2 839.4 851.3 839.3 889C839.2 926.7 838.9 1044.8 838.8 1076" stroke="#6fc29c" stroke-width="3.1" stroke-opacity="0.8"/>
</g>
<rect class="ax" x="561" y="636.7" width="345.1" height="437.1"/>
<path class="tk" d="M559.9 636.7h-19.4M559.9 646.4h-9.7M559.9 656.1h-9.7M559.9 665.8h-9.7M559.9 675.6h-9.7M559.9 685.3h-19.4M559.9 695h-9.7M559.9 704.7h-9.7M559.9 714.4h-9.7M559.9 724.1h-9.7M559.9 733.8h-19.4M559.9 743.5h-9.7M559.9 753.3h-9.7M559.9 763h-9.7M559.9 772.7h-9.7M559.9 782.4h-19.4M559.9 792.1h-9.7M559.9 801.8h-9.7M559.9 811.5h-9.7M559.9 821.3h-9.7M559.9 831h-19.4M559.9 840.7h-9.7M559.9 850.4h-9.7M559.9 860.1h-9.7M559.9 869.8h-9.7M559.9 879.5h-19.4M559.9 889.2h-9.7M559.9 899h-9.7M559.9 908.7h-9.7M559.9 918.4h-9.7M559.9 928.1h-19.4M559.9 937.8h-9.7M559.9 947.5h-9.7M559.9 957.2h-9.7M559.9 967h-9.7M559.9 976.7h-19.4M559.9 986.4h-9.7M559.9 996.1h-9.7M559.9 1005.8h-9.7M559.9 1015.5h-9.7M559.9 1025.2h-19.4M559.9 1034.9h-9.7M559.9 1044.7h-9.7M559.9 1054.4h-9.7M559.9 1064.1h-9.7M559.9 1073.8h-19.4"/>
<text x="560.4" y="1123.1" text-anchor="middle" textLength="42.6">−7</text>
<text x="629.4" y="1123.1" text-anchor="middle" textLength="42.6">−6</text>
<text x="698.4" y="1123.1" text-anchor="middle" textLength="42.6">−5</text>
<text x="767.5" y="1123.1" text-anchor="middle" textLength="42.6">−4</text>
<text x="836.5" y="1123.1" text-anchor="middle" textLength="42.6">−3</text>
<text x="905.5" y="1123.1" text-anchor="middle" textLength="42.6">−2</text>
<path class="tk" d="M561 1074.9v19.4M595.5 1074.9v9.7M630 1074.9v19.4M664.5 1074.9v9.7M699 1074.9v19.4M733.5 1074.9v9.7M768.1 1074.9v19.4M802.6 1074.9v9.7M837.1 1074.9v19.4M871.6 1074.9v9.7M906.1 1074.9v19.4"/>
<text class="b" x="533.3" y="1161.8" textLength="38.6">(f)</text>
<text x="733.2" y="1161.4" text-anchor="middle" textLength="256.1">log<tspan class="sub" dy="4.6">10</tspan><tspan dy="-4.6">[ H</tspan><tspan class="sub" dy="4.6">2</tspan><tspan dy="-4.6">O ] (dex)</tspan></text>
</g>
<g id="panel-g">
<g clip-path="url(#cp12)">
<path d="M1011 634C1011.2 639.3 1011.9 653 1012.4 666C1012.9 679 1013.1 698.2 1014 712C1014.9 725.8 1016 738 1017.5 748.7C1019 759.4 1020.9 767.9 1023.2 776.3C1025.5 784.7 1028 792 1031.3 799.3C1034.6 806.6 1039 814 1042.8 820C1046.6 826 1050.6 830.6 1054 835C1057.4 839.4 1059.2 841.6 1063.4 846.1C1067.7 850.6 1074.9 857.2 1079.5 862.2C1084.1 867.2 1087.2 870.6 1091 876C1094.8 881.4 1099 888.3 1102.5 894.4C1106 900.5 1108.6 906.3 1111.7 912.8C1114.8 919.3 1117.5 925.8 1120.9 933.4C1124.4 941 1128.6 950.7 1132.4 958.7C1136.2 966.8 1140.1 974 1143.9 981.7C1147.7 989.4 1151.6 997.8 1155.4 1004.7C1159.2 1011.6 1163.1 1017 1166.9 1023.1C1170.7 1029.2 1174.6 1035.4 1178.4 1041.5C1182.2 1047.6 1186.8 1054.6 1189.9 1059.9C1193 1065.2 1195.5 1070.5 1196.8 1073.2C1198.1 1075.9 1197.8 1075.5 1198 1076L1298 1076C1297.8 1075.5 1298 1076.3 1296.8 1073.2C1295.6 1070.1 1293.5 1062.9 1291 1057.6C1288.5 1052.3 1286 1048 1281.8 1041.5C1277.6 1035 1271.4 1025.8 1265.7 1018.5C1260 1011.2 1254.3 1005.1 1247.4 997.8C1240.5 990.5 1232.1 982.1 1224.4 974.8C1216.7 967.5 1209.1 961 1201.4 954.1C1193.7 947.2 1186.1 940.3 1178.4 933.4C1170.7 926.5 1162.7 919.7 1155.4 912.8C1148.1 905.9 1140.5 898.2 1134.7 892.1C1129 886 1124.5 881.4 1120.9 876C1117.3 870.6 1115.1 864.9 1112.9 859.9C1110.7 854.9 1108.9 849.6 1107.6 846C1106.3 842.4 1106 842 1105 838C1104 834 1102.4 829.9 1101.4 822.3C1100.4 814.7 1099.8 803.1 1099.1 792.4C1098.4 781.7 1097.8 771.3 1097.5 757.9C1097.2 744.5 1097.2 725.4 1097.5 712C1097.8 698.6 1098.8 690.5 1099.1 677.5C1099.4 664.5 1099.1 641.2 1099.1 634Z" fill="#4575b4" fill-opacity="0.5"/>
<path class="ln" d="M1069.9 634C1069.9 648.9 1069.8 703.5 1069.9 723.4C1070.1 743.3 1070.2 743.7 1070.8 753.3C1071.4 762.9 1072.5 772.5 1073.8 780.9C1075.1 789.3 1076.5 796.2 1078.4 803.9C1080.3 811.6 1083.2 820.4 1085.3 826.9C1087.4 833.4 1088.1 836.4 1091 843C1093.9 849.6 1098.7 859.8 1102.5 866.8C1106.3 873.8 1109.4 878.7 1114 885.2C1118.6 891.7 1123.2 897.9 1130.1 905.9C1137 913.9 1147.4 924.6 1155.4 933.4C1163.5 942.2 1171.5 951.4 1178.4 958.7C1185.3 966 1191 971 1196.8 977.1C1202.5 983.2 1207.5 989.4 1212.9 995.5C1218.3 1001.6 1223.6 1007.8 1229 1013.9C1234.4 1020 1240.5 1026.5 1245.1 1032.3C1249.7 1038 1253.5 1043.4 1256.6 1048.4C1259.6 1053.4 1261.5 1058.1 1263.4 1062.2C1265.3 1066.3 1267.1 1070.9 1268 1073.2C1268.9 1075.5 1268.8 1075.5 1269 1076" stroke="#3a4ba3" stroke-width="2.9" stroke-opacity="0.92"/>
<rect x="1122.8" y="636.7" width="75.1" height="437.1" fill="#a1d99b" fill-opacity="0.5"/>
<path class="ln" d="M1155.9 630L1155.9 1078" stroke="#74c49c" stroke-width="3.4" stroke-opacity="0.6"/>
</g>
<rect class="ax" x="977" y="636.7" width="344.9" height="437.1"/>
<path class="tk" d="M975.9 636.7h-19.4M975.9 646.4h-9.7M975.9 656.1h-9.7M975.9 665.8h-9.7M975.9 675.6h-9.7M975.9 685.3h-19.4M975.9 695h-9.7M975.9 704.7h-9.7M975.9 714.4h-9.7M975.9 724.1h-9.7M975.9 733.8h-19.4M975.9 743.5h-9.7M975.9 753.3h-9.7M975.9 763h-9.7M975.9 772.7h-9.7M975.9 782.4h-19.4M975.9 792.1h-9.7M975.9 801.8h-9.7M975.9 811.5h-9.7M975.9 821.3h-9.7M975.9 831h-19.4M975.9 840.7h-9.7M975.9 850.4h-9.7M975.9 860.1h-9.7M975.9 869.8h-9.7M975.9 879.5h-19.4M975.9 889.2h-9.7M975.9 899h-9.7M975.9 908.7h-9.7M975.9 918.4h-9.7M975.9 928.1h-19.4M975.9 937.8h-9.7M975.9 947.5h-9.7M975.9 957.2h-9.7M975.9 967h-9.7M975.9 976.7h-19.4M975.9 986.4h-9.7M975.9 996.1h-9.7M975.9 1005.8h-9.7M975.9 1015.5h-9.7M975.9 1025.2h-19.4M975.9 1034.9h-9.7M975.9 1044.7h-9.7M975.9 1054.4h-9.7M975.9 1064.1h-9.7M975.9 1073.8h-19.4"/>
<text x="1007.8" y="1123.1" text-anchor="middle" textLength="61">−16</text>
<text x="1070.5" y="1123.1" text-anchor="middle" textLength="61">−14</text>
<text x="1133.2" y="1123.1" text-anchor="middle" textLength="61">−12</text>
<text x="1195.9" y="1123.1" text-anchor="middle" textLength="61">−10</text>
<text x="1258.6" y="1123.1" text-anchor="middle" textLength="42.6">−8</text>
<text x="1321.3" y="1123.1" text-anchor="middle" textLength="42.6">−6</text>
<path class="tk" d="M977 1074.9v9.7M1008.4 1074.9v19.4M1039.7 1074.9v9.7M1071.1 1074.9v19.4M1102.4 1074.9v9.7M1133.8 1074.9v19.4M1165.1 1074.9v9.7M1196.5 1074.9v19.4M1227.8 1074.9v9.7M1259.2 1074.9v19.4M1290.5 1074.9v9.7M1321.9 1074.9v19.4"/>
<text class="b" x="949.3" y="1161.8" textLength="46.6">(g)</text>
<text x="1148.5" y="1161.4" text-anchor="middle" textLength="237.6">log<tspan class="sub" dy="4.6">10</tspan><tspan dy="-4.6">[ H</tspan><tspan class="sub" dy="-9.3">−</tspan><tspan dy="9.3"> ] (dex)</tspan></text>
</g>
<g id="panel-h">
<g clip-path="url(#cp13)">
<path class="ln" d="M1404.6 634C1404.7 634.4 1404.5 633.8 1405.2 636.6C1405.9 639.4 1407.3 645.1 1409 651C1410.7 656.9 1412.8 664.8 1415.2 671.7C1417.6 678.6 1420.4 685.5 1423.5 692.4C1426.6 699.3 1430 706.2 1433.8 713.1C1437.6 720 1441.7 726.9 1446.2 733.8C1450.7 740.7 1455.5 748 1460.7 754.5C1465.9 761 1471.3 767.2 1477.2 773.1C1483.1 779 1489.3 784.2 1495.9 789.7C1502.5 795.2 1509 800.9 1516.6 806.2C1524.2 811.5 1533.1 816.9 1541.4 821.7C1549.7 826.5 1556.9 830.6 1566.2 835.2C1575.5 839.8 1587 845 1597.3 849.3C1607.6 853.5 1618 857.1 1628.3 860.7C1638.6 864.3 1649.6 867.9 1659.3 871C1669 874.1 1679 876.9 1686.2 879.3C1693.5 881.7 1698.7 883.4 1702.8 885.5C1706.9 887.6 1709.8 889.8 1711.1 891.7C1712.4 893.6 1712 895.2 1710.6 896.9C1709.2 898.6 1707.9 900.2 1702.8 902.1C1697.7 904 1689 906.4 1680 908.3C1671 910.2 1661.1 911.7 1649 913.4C1636.9 915.1 1621.4 916.9 1607.6 918.6C1593.8 920.3 1580 922.1 1566.2 923.8C1552.4 925.5 1538.6 927.2 1524.8 929C1511 930.8 1495.6 932.9 1483.5 934.8C1471.4 936.7 1461.7 938.5 1452.4 940.3C1443.1 942.1 1434.8 943.8 1427.6 945.5C1420.4 947.2 1413.7 949.2 1409 950.7C1404.3 952.2 1402 953.2 1399.7 954.8C1397.5 956.3 1396.5 957.8 1395.5 960C1394.5 962.2 1394.3 961.6 1393.9 968.3C1393.5 975 1393.4 982 1393.3 1000C1393.2 1018 1393.3 1063.3 1393.3 1076" stroke="#2c2f85" stroke-width="3.8" stroke-opacity="1"/>
<path class="ln" d="M1394.9 634C1395 640.4 1395.2 671.6 1395.5 682.1C1395.8 692.6 1396.4 704.8 1397 713.1C1397.6 721.4 1398.8 736.6 1399.7 744.1C1400.6 751.6 1402.4 762.7 1403.8 769C1405.2 775.3 1408.1 786.5 1410 791.7C1411.9 796.9 1416.1 804.4 1418.3 808.3C1420.5 812.2 1424.5 817.8 1426.6 820.7C1428.7 823.6 1431.5 827.4 1433.8 830C1436.1 832.6 1441.3 837.6 1444.1 840C1446.9 842.4 1451.5 845.8 1454.5 848.3C1457.5 850.8 1463.9 856.1 1466.9 858.6C1469.9 861.1 1473.9 864.8 1477.2 866.9C1480.5 869 1488.4 872.2 1491.7 874.1C1495 876 1498.8 879.5 1502.1 881.4C1505.4 883.3 1512.2 886.7 1516.6 888.6C1521 890.5 1530.8 894.1 1535.2 895.9C1539.6 897.7 1545 900.4 1549.7 902.1C1554.4 903.8 1564.9 906.5 1570.4 908.3C1575.9 910.1 1586 913.7 1591 915.5C1596 917.3 1602.6 920 1607.6 921.7C1612.6 923.4 1622.2 926.5 1628.3 927.9C1634.4 929.3 1648.1 931.1 1653.1 932.1C1658.1 933.1 1664.7 934.6 1665.5 935.6C1666.3 936.6 1661.6 938.3 1659.3 939.3C1657 940.3 1648.4 941.8 1647.9 942.8C1647.4 943.8 1650.9 945.5 1655.2 946.6C1659.5 947.7 1674.6 949.7 1680 950.7C1685.4 951.7 1694.1 953.2 1695.5 954.2C1696.9 955.2 1693.3 956.8 1690.4 957.9C1687.5 959 1677 961.1 1673.8 962.1C1670.6 963.1 1666.3 964.7 1666.6 965.6C1666.9 966.5 1671.4 967.8 1675.9 968.7C1680.4 969.6 1696.2 971.6 1700.7 972.4C1705.2 973.2 1710.3 974.2 1710 974.9C1709.7 975.6 1705.4 976.8 1698.6 977.6C1691.8 978.4 1667.6 979.9 1659.3 980.7C1651 981.5 1638.8 982.9 1636.6 983.8C1634.4 984.7 1639.5 986.3 1642.8 987.3C1646.1 988.3 1658.4 990.2 1661.4 991C1664.4 991.8 1666.3 992.8 1665.5 993.5C1664.7 994.2 1661.5 995.7 1655.2 996.6C1648.9 997.5 1627.6 999.4 1617.9 1000.4C1608.2 1001.4 1589.1 1003 1582.8 1003.9C1576.5 1004.8 1571 1006.2 1570.4 1007C1569.8 1007.8 1575.6 1009.2 1578.6 1010.1C1581.6 1011 1592 1012.6 1593.1 1013.4C1594.2 1014.2 1591.9 1015.6 1586.9 1016.3C1581.9 1017 1565.6 1018.2 1555.9 1019C1546.2 1019.8 1522.5 1021.3 1514.5 1022.1C1506.5 1022.9 1498.8 1024.1 1495.9 1024.8C1493 1025.5 1492.7 1026.5 1492.8 1027.2C1492.9 1027.9 1496.5 1029.3 1496.9 1030.3C1497.3 1031.3 1497.7 1033.4 1495.9 1034.5C1494.1 1035.6 1488.5 1037.2 1483.5 1038.2C1478.5 1039.2 1465.2 1040.8 1458.6 1041.7C1452 1042.6 1438.3 1044.5 1433.8 1045.3C1429.3 1046.1 1425.5 1047.1 1424.5 1047.9C1423.5 1048.7 1425.9 1050.2 1426.6 1051C1427.3 1051.8 1430.1 1053.3 1429.7 1054.1C1429.3 1054.9 1426.3 1056.3 1423.5 1057.3C1420.7 1058.3 1412 1060.3 1409 1061.4C1406 1062.5 1402 1063.9 1400.7 1065.5C1399.4 1067.1 1399.3 1072 1399 1073.4C1398.7 1074.8 1398.8 1075.7 1398.8 1076" stroke="#64be9f" stroke-width="3.8" stroke-opacity="1"/>
</g>
<rect class="ax" x="1393.1" y="636.7" width="345.9" height="437.1"/>
<path class="tk" d="M1392 636.7h-19.4M1392 646.4h-9.7M1392 656.1h-9.7M1392 665.8h-9.7M1392 675.6h-9.7M1392 685.3h-19.4M1392 695h-9.7M1392 704.7h-9.7M1392 714.4h-9.7M1392 724.1h-9.7M1392 733.8h-19.4M1392 743.5h-9.7M1392 753.3h-9.7M1392 763h-9.7M1392 772.7h-9.7M1392 782.4h-19.4M1392 792.1h-9.7M1392 801.8h-9.7M1392 811.5h-9.7M1392 821.3h-9.7M1392 831h-19.4M1392 840.7h-9.7M1392 850.4h-9.7M1392 860.1h-9.7M1392 869.8h-9.7M1392 879.5h-19.4M1392 889.2h-9.7M1392 899h-9.7M1392 908.7h-9.7M1392 918.4h-9.7M1392 928.1h-19.4M1392 937.8h-9.7M1392 947.5h-9.7M1392 957.2h-9.7M1392 967h-9.7M1392 976.7h-19.4M1392 986.4h-9.7M1392 996.1h-9.7M1392 1005.8h-9.7M1392 1015.5h-9.7M1392 1025.2h-19.4M1392 1034.9h-9.7M1392 1044.7h-9.7M1392 1054.4h-9.7M1392 1064.1h-9.7M1392 1073.8h-19.4"/>
<text class="b" x="1365.4" y="1161.8" textLength="46.5">(h)</text>
<text x="1566.3" y="1129.8" text-anchor="middle" textLength="166.1">Normalised</text>
<text x="1565.5" y="1162" text-anchor="middle" textLength="175.9">contribution</text>
</g>
<text transform="translate(23.6 294.2) rotate(-90)" text-anchor="middle" textLength="314.3">log<tspan class="sub" dy="4.6">10</tspan><tspan dy="-4.6">[ Pressure (bar) ]</tspan></text>
<text transform="translate(23.6 855.5) rotate(-90)" text-anchor="middle" textLength="314.3">log<tspan class="sub" dy="4.6">10</tspan><tspan dy="-4.6">[ Pressure (bar) ]</tspan></text>
<g id="legend">
<rect x="210.6" y="1.3" width="1461.2" height="50.7" rx="5.5" ry="5.5" fill="#fff" stroke="#d0d0d0" stroke-width="2.3"/>
<path d="M220.7 24.5H281.4" stroke="#a3062e" stroke-width="3.1" fill="none"/>
<text x="302.9" y="34.1" textLength="205.3">ATMO dayside</text>
<path d="M561.1 24.5H621.6" stroke="#f5ab62" stroke-width="3.1" fill="none"/>
<text x="642.3" y="34.1" textLength="249.2">NEMESIS dayside</text>
<path d="M946 24.5H1006.4" stroke="#30388f" stroke-width="3.1" fill="none"/>
<text x="1028.6" y="34.1" textLength="226.6">ATMO nightside</text>
<path d="M1310.5 24.5H1369.4" stroke="#6cc3a6" stroke-width="3.1" fill="none"/>
<text x="1389.4" y="34.1" textLength="270.8">NEMESIS nightside</text>
</g>
</svg>
</body></html>
